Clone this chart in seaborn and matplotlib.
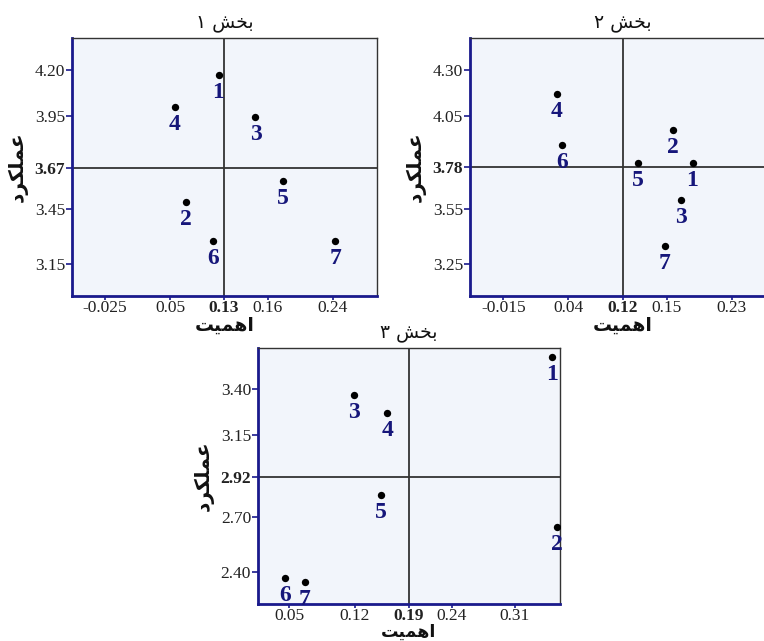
import matplotlib
matplotlib.use("Agg")
import matplotlib.pyplot as plt
import numpy as np
import pandas as pd
import seaborn as sns

sns.set_theme(style="white")
plt.rcParams["font.family"] = ["Liberation Serif", "DejaVu Sans"]

# ---------------- data ----------------
items = ["1", "2", "3", "4", "5", "6", "7"]

# Section 1
s1_importance = [0.107, 0.069, 0.150, 0.056, 0.182, 0.101, 0.243]
s1_performance = [4.171, 3.485, 3.946, 3.998, 3.598, 3.274, 3.276]
s1_mean_importance = 0.1134
s1_mean_performance = 3.670
s1_xticks = [-0.025, 0.0506, 0.1134, 0.1645, 0.24]
s1_xticklabels = ["-0.025", "0.05", "0.13", "0.16", "0.24"]
s1_yticks = [4.20, 3.95, 3.67, 3.45, 3.15]
s1_yticklabels = ["4.20", "3.95", "3.67", "3.45", "3.15"]

# Section 2
s2_importance = [0.188, 0.167, 0.176, 0.042, 0.129, 0.048, 0.158]
s2_performance = [3.797, 3.974, 3.599, 4.169, 3.797, 3.896, 3.349]
s2_mean_importance = 0.1129
s2_mean_performance = 3.775
s2_xticks = [-0.015, 0.0544, 0.1129, 0.1602, 0.23]
s2_xticklabels = ["-0.015", "0.04", "0.12", "0.15", "0.23"]
s2_yticks = [4.30, 4.05, 3.775, 3.55, 3.25]
s2_yticklabels = ["4.30", "4.05", "3.78", "3.55", "3.25"]

# Section 3
s3_importance = [0.353, 0.358, 0.125, 0.163, 0.156, 0.045, 0.068]
s3_performance = [3.575, 2.643, 3.370, 3.270, 2.819, 2.365, 2.344]
s3_mean_importance = 0.188
s3_mean_performance = 2.92
s3_xticks = [0.05, 0.1257, 0.188, 0.2374, 0.31]
s3_xticklabels = ["0.05", "0.12", "0.19", "0.24", "0.31"]
s3_yticks = [3.40, 3.15, 2.92, 2.70, 2.40]
s3_yticklabels = ["3.40", "3.15", "2.92", "2.70", "2.40"]

# Persian text (pre-shaped presentation forms, visual order)
titles = [
    "\u06F1 \uFEB6\uFEA8\uFE91",   # بخش ۱
    "\u06F2 \uFEB6\uFEA8\uFE91",   # بخش ۲
    "\u06F3 \uFEB6\uFEA8\uFE91",   # بخش ۳
]
xlabel_text = "\uFE96\uFEF4\uFEE4\uFEEB\uFE8D"          # اهمیت
ylabel_text = "\uFEA9\uFEAE\uFB91\uFEE0\uFEE4\uFECB"    # عملکرد

# ---------------- layout ----------------
W, H = 764, 641
fig = plt.figure(figsize=(W / 100, H / 100), dpi=100)

def fig_rect(left, top, width, height):
    return [left / W, (H - top - height) / H, width / W, height / H]

panels = [
    dict(rect=fig_rect(72, 38, 305, 258), xlim=(-0.0634, 0.2913), ylim=(2.978, 4.373),
         x=s1_importance, y=s1_performance, mx=s1_mean_importance, my=s1_mean_performance,
         xt=s1_xticks, xtl=s1_xticklabels, yt=s1_yticks, ytl=s1_yticklabels, title=titles[0],
         xlpad=0, xlsize=13.5),
    dict(rect=fig_rect(470, 38, 305, 258), xlim=(-0.0509, 0.2765), ylim=(3.078, 4.473),
         x=s2_importance, y=s2_performance, mx=s2_mean_importance, my=s2_mean_performance,
         xt=s2_xticks, xtl=s2_xticklabels, yt=s2_yticks, ytl=s2_yticklabels, title=titles[1],
         xlpad=0, xlsize=13.5),
    dict(rect=fig_rect(258, 348, 302, 256), xlim=(0.0139, 0.3619), ylim=(2.222, 3.626),
         x=s3_importance, y=s3_performance, mx=s3_mean_importance, my=s3_mean_performance,
         xt=s3_xticks, xtl=s3_xticklabels, yt=s3_yticks, ytl=s3_yticklabels, title=titles[2],
         xlpad=-1, xlsize=12.5),
]

navy = "#1a1a8c"
label_color = "#16167a"
face = "#f2f5fb"

for p in panels:
    ax = fig.add_axes(p["rect"])
    ax.set_facecolor(face)
    df = pd.DataFrame({"importance": p["x"], "performance": p["y"], "item": items})

    ax.axvline(p["mx"], color="#333333", lw=1.3, zorder=1)
    ax.axhline(p["my"], color="#333333", lw=1.3, zorder=1)

    sns.scatterplot(data=df, x="importance", y="performance", ax=ax, color="black",
                    s=28, edgecolor="black", linewidth=0, zorder=3, legend=False)
    for _, r in df.iterrows():
        ax.annotate(r["item"], (r["importance"], r["performance"]), xytext=(0, -16.5),
                    textcoords="offset points", ha="center", va="baseline",
                    fontsize=17, fontweight="bold", color=label_color,
                    family=["Liberation Serif"], annotation_clip=False, clip_on=False, zorder=4)

    ax.set_xlim(*p["xlim"])
    ax.set_ylim(*p["ylim"])
    ax.set_xticks(p["xt"])
    ax.set_xticklabels(p["xtl"])
    ax.set_yticks(p["yt"])
    ax.set_yticklabels(p["ytl"])
    for i, t in enumerate(ax.get_xticklabels()):
        t.set_fontsize(12.5)
        t.set_color("#222222")
        if i == 2:
            t.set_fontweight("bold")
    for i, t in enumerate(ax.get_yticklabels()):
        t.set_fontsize(12.5)
        t.set_color("#222222")
        if i == 2:
            t.set_fontweight("bold")
    ax.tick_params(axis="x", which="major", direction="out", length=3, width=1.2,
                   color=navy, pad=0, bottom=True)
    ax.tick_params(axis="y", which="major", direction="out", length=4, width=1.2,
                   color=navy, pad=1, left=True)

    for side in ["top", "right"]:
        ax.spines[side].set_color("#333333")
        ax.spines[side].set_linewidth(1.0)
    for side in ["left", "bottom"]:
        ax.spines[side].set_color(navy)
        ax.spines[side].set_linewidth(2.0)

    ax.set_title(p["title"], family=["DejaVu Sans"], fontsize=13.5, pad=8, color="#111111")
    ax.set_xlabel(xlabel_text, family=["DejaVu Sans"], fontsize=p["xlsize"], fontweight="bold",
                  labelpad=p["xlpad"], color="#111111")
    ax.set_ylabel(ylabel_text, family=["DejaVu Sans"], fontsize=14.5, fontweight="bold",
                  labelpad=5, color="#111111")

fig.savefig("out.png", dpi=100)
